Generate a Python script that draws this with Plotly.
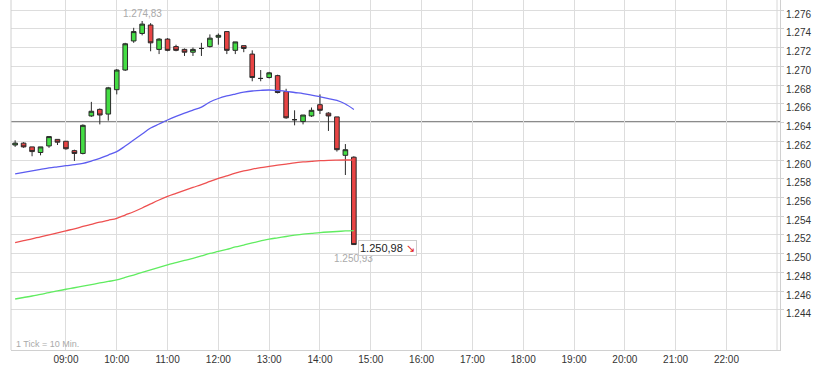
import plotly.graph_objects as go
import pandas as pd

# ---- data ----
day = "2014-01-15"
times = pd.date_range(f"{day} 08:00", periods=41, freq="10min")

opens = [1.2616, 1.2618, 1.2614, 1.2608, 1.2615, 1.2622, 1.2620, 1.2610, 1.2607, 1.2647,
         1.2654, 1.2649, 1.2675, 1.2696, 1.2727, 1.2735, 1.2744, 1.2718, 1.2729, 1.2721,
         1.2718, 1.2715, 1.2719, 1.2721, 1.2731, 1.2737, 1.2717, 1.2722, 1.2713, 1.2687,
         1.2688, 1.2690, 1.2673, 1.2643, 1.2641, 1.2647, 1.2659, 1.2650, 1.2646, 1.2605,
         1.2603]
highs = [1.2621, 1.2619, 1.2614, 1.2614, 1.2625, 1.2622, 1.2620, 1.2611, 1.2638, 1.2662,
         1.2655, 1.2678, 1.2697, 1.2725, 1.2741, 1.27483, 1.2746, 1.2730, 1.2730, 1.2723,
         1.2719, 1.2720, 1.2725, 1.2734, 1.2735, 1.2737, 1.2726, 1.2722, 1.2717, 1.2696,
         1.2694, 1.2691, 1.2676, 1.2653, 1.2648, 1.2656, 1.2670, 1.2651, 1.2646, 1.2617,
         1.2604]
lows = [1.2614, 1.2613, 1.2604, 1.2605, 1.2613, 1.2616, 1.2611, 1.2599, 1.2606, 1.2646,
        1.2638, 1.2642, 1.2670, 1.2695, 1.2725, 1.2733, 1.2716, 1.2713, 1.2716, 1.2716,
        1.2711, 1.2711, 1.2711, 1.2720, 1.2723, 1.2713, 1.2713, 1.2715, 1.2684, 1.2684,
        1.2687, 1.2671, 1.2644, 1.2637, 1.2638, 1.2646, 1.2649, 1.2631, 1.2609, 1.2584,
        1.25093]
closes = [1.2618, 1.2614, 1.2609, 1.2614, 1.2625, 1.2619, 1.2612, 1.2607, 1.2637, 1.2652,
          1.2648, 1.2677, 1.2696, 1.2724, 1.2737, 1.2745, 1.2725, 1.2729, 1.2717, 1.2717,
          1.2715, 1.2718, 1.2719, 1.2730, 1.2733, 1.2717, 1.2726, 1.2719, 1.2688, 1.2687,
          1.2693, 1.2672, 1.2645, 1.2643, 1.2648, 1.2653, 1.2653, 1.2647, 1.2611, 1.2611,
          1.25098]

ma_blue = [1.25851, 1.25867, 1.25883, 1.25899, 1.25915, 1.25927, 1.25939, 1.25950, 1.25964, 1.25989,
           1.26017, 1.26053, 1.26089, 1.26149, 1.26213, 1.26277, 1.26341, 1.26384, 1.26427, 1.26466,
           1.26501, 1.26533, 1.26565, 1.26619, 1.26656, 1.26683, 1.26704, 1.26723, 1.26736, 1.26743,
           1.26747, 1.26741, 1.26733, 1.26720, 1.26709, 1.26693, 1.26675, 1.26656, 1.26635, 1.26597,
           1.26539]
ma_red = [1.25118, 1.25139, 1.25159, 1.25181, 1.25202, 1.25223, 1.25245, 1.25266, 1.25291, 1.25314,
          1.25337, 1.25357, 1.25378, 1.25413, 1.25448, 1.25488, 1.25531, 1.25573, 1.25611, 1.25643,
          1.25675, 1.25707, 1.25738, 1.25771, 1.25803, 1.25831, 1.25859, 1.25883, 1.25902, 1.25919,
          1.25932, 1.25945, 1.25957, 1.25970, 1.25979, 1.25986, 1.25993, 1.25997, 1.25999, 1.26000,
          1.26000]
ma_green = [1.24517, 1.24533, 1.24549, 1.24567, 1.24584, 1.24603, 1.24621, 1.24637, 1.24654, 1.24671,
            1.24688, 1.24704, 1.24720, 1.24747, 1.24773, 1.24800, 1.24827, 1.24854, 1.24880, 1.24904,
            1.24928, 1.24951, 1.24976, 1.25003, 1.25024, 1.25047, 1.25072, 1.25093, 1.25115, 1.25136,
            1.25156, 1.25170, 1.25184, 1.25198, 1.25210, 1.25218, 1.25226, 1.25232, 1.25237, 1.25243,
            1.25247]

prev_close = 1.26411
day_high = 1.27483
day_low = 1.25093
last_price = 1.25098

hour_ticks = [f"{h:02d}:00" for h in range(9, 23)]
y_ticks = [round(1.244 + 0.002 * k, 3) for k in range(17)]
y_labels = [f"{v:.3f}" for v in y_ticks]

x_start = f"{day} 07:55:07"
x_end = f"{day} 23:03:15"
y_min, y_max = 1.23973, 1.27707

FONT = "Liberation Sans, Arial, sans-serif"

fig = go.Figure()

for vals, col in [(ma_blue, "#5c5cf0"), (ma_red, "#ee5050"), (ma_green, "#60ec60")]:
    fig.add_trace(go.Scatter(x=times, y=vals, mode="lines",
                             line=dict(color=col, width=1.3, shape="spline"),
                             hoverinfo="skip", showlegend=False))

fig.add_trace(go.Candlestick(
    x=times, open=opens, high=highs, low=lows, close=closes,
    increasing=dict(fillcolor="#44dd44", line=dict(color="#2a2a2a", width=1)),
    decreasing=dict(fillcolor="#e84444", line=dict(color="#2a2a2a", width=1)),
    whiskerwidth=0, showlegend=False, hoverinfo="skip"))

fig.add_shape(type="line", xref="paper", x0=0, x1=1, yref="y", y0=prev_close, y1=prev_close,
              line=dict(color="#888888", width=1), layer="below")
fig.add_shape(type="line", xref="paper", x0=0, x1=0, yref="paper", y0=0, y1=1,
              line=dict(color="#d0d0d0", width=1))
fig.add_shape(type="line", xref="paper", x0=0.9961, x1=0.9961, yref="paper", y0=0, y1=1,
              line=dict(color="#d8d8d8", width=1))

fig.add_annotation(x=times[15], y=day_high, text="1.274,83", showarrow=False,
                   yanchor="bottom", yshift=0, font=dict(family=FONT, size=10, color="#aaaaaa"))
fig.add_annotation(x=times[40], y=day_low, text="1.250,93", showarrow=False,
                   yanchor="top", yshift=-6, font=dict(family=FONT, size=10, color="#aaaaaa"))
fig.add_annotation(x=times[40], y=last_price,
                   text="1.250,98 <span style='color:#e02020'>↘</span>", showarrow=False,
                   xanchor="left", yanchor="middle", xshift=4, yshift=-3,
                   bgcolor="white", bordercolor="#cccccc", borderwidth=1, borderpad=1,
                   font=dict(family=FONT, size=11, color="#222222"))
fig.add_annotation(xref="paper", yref="paper", x=0, y=0, text="1 Tick = 10 Min.",
                   showarrow=False, xanchor="left", yanchor="bottom", xshift=3, yshift=-1,
                   font=dict(family=FONT, size=9, color="#aaaaaa"))

fig.update_layout(
    width=818, height=369,
    margin=dict(l=11, r=38, t=0, b=19),
    paper_bgcolor="white", plot_bgcolor="white",
    font=dict(family=FONT, size=10, color="#333333"),
    showlegend=False,
    boxgap=0.22,
    xaxis=dict(type="date", range=[x_start, x_end],
               tickvals=[f"{day} {t}" for t in hour_ticks], ticktext=hour_ticks,
               showgrid=True, gridcolor="#dddddd", gridwidth=1,
               showline=True, linecolor="#d0d0d0", linewidth=1,
               ticks="", zeroline=False, rangeslider=dict(visible=False),
               fixedrange=True),
    yaxis=dict(side="right", range=[y_min, y_max],
               tickvals=y_ticks, ticktext=y_labels,
               showgrid=True, gridcolor="#dddddd", gridwidth=1,
               showline=True, linecolor="#d0d0d0", linewidth=1,
               ticks="outside", ticklen=3, tickcolor="#d0d0d0",
               ticklabelshift=4, zeroline=False, fixedrange=True),
)

fig.write_html("out.html", config={"displayModeBar": False})
